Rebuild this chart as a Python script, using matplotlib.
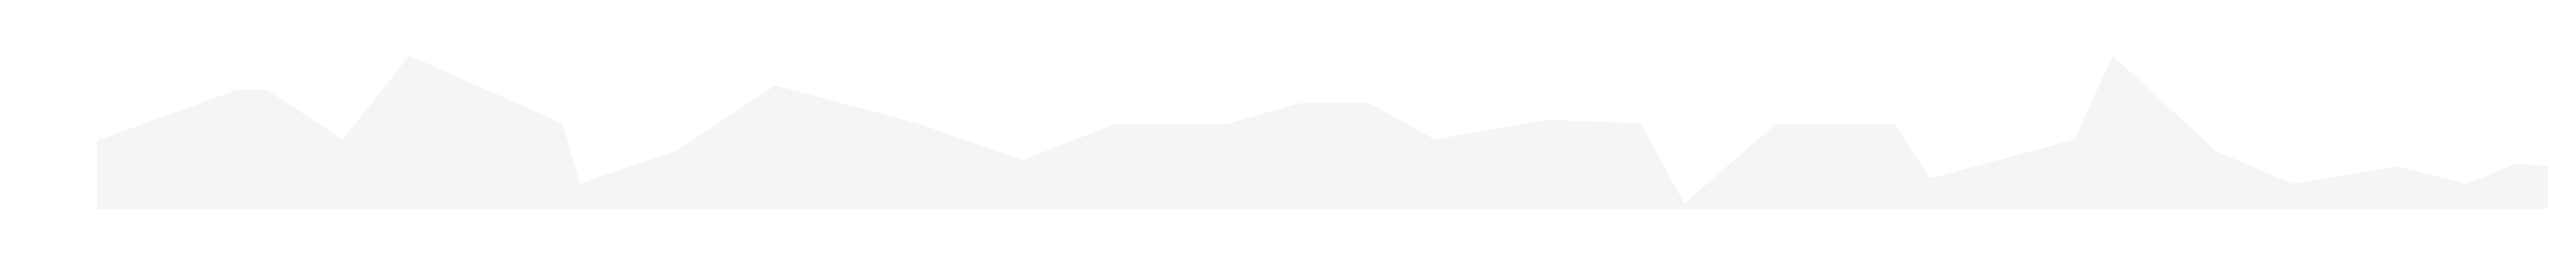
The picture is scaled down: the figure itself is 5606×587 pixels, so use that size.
import numpy as np
import matplotlib
matplotlib.use("Agg")
import matplotlib.pyplot as plt

# x positions of the points (left to right) and their heights above the baseline
x_pos = [211, 515, 581, 745, 890, 1224, 1261, 1470, 1687, 1996,
         2226, 2425, 2668, 2827, 2980, 3122, 3366, 3570, 3665, 3863,
         4124, 4200, 4514, 4597, 4822, 4989, 5217, 5366, 5477, 5544]
values = [148.5, 258.5, 258.5, 150.5, 333, 185.5, 54.5, 125.5, 268.5, 185.5,
          106, 184, 184, 229.5, 229.5, 150.5, 193.5, 185.5, 11.5, 183.5,
          183.5, 66, 150.5, 333, 125.5, 54.5, 92, 54.5, 98, 92]

fill_color = "#f4f5f7"

if __name__ == "__main__":
    fig = plt.figure(figsize=(56.06, 5.87), dpi=100)
    ax = fig.add_axes([0, 0, 1, 1])

    x = np.array(x_pos)
    y = np.array(values)
    ax.fill_between(x, y, 0, color=fill_color, linewidth=0)

    ax.set_xlim(0, 5606)
    ax.set_ylim(-133.5, 453.5)
    ax.axis("off")

    fig.savefig("out.png", dpi=100, facecolor="white")
